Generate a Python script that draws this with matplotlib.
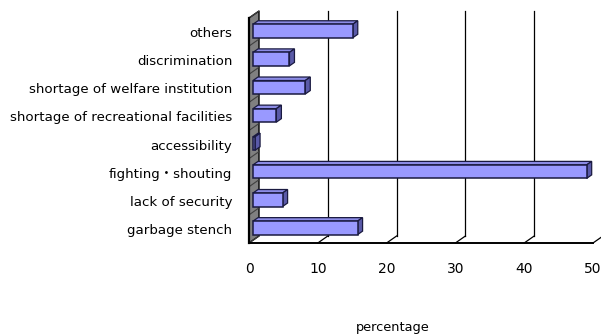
import matplotlib
matplotlib.use('Agg')
import matplotlib.pyplot as plt
from matplotlib.patches import Polygon

plt.rcParams['font.family'] = ['DejaVu Sans', 'Noto Sans CJK JP']

categories = ['garbage stench', 'lack of security', 'fighting・shouting', 'accessibility',
              'shortage of recreational facilities', 'shortage of welfare institution',
              'discrimination', 'others']
values = [15.2, 4.3, 48.5, 0.3, 3.4, 7.6, 5.3, 14.5]
x_ticks = [0, 10, 20, 30, 40, 50]

W, H = 601, 336
fig = plt.figure(figsize=(W / 100, H / 100), dpi=100)
# front plane of the 3d box, in pixels: x 249..593, y 243(bottom)..18(top)
ax = fig.add_axes([249 / W, (H - 243) / H, (593 - 249) / W, (243 - 18) / H])
ax.set_xlim(0, 50)
ax.set_ylim(0, len(categories))

# depth of the box in data units (10 px right, 7 px up)
ux = 50 / (593 - 249)
uy = len(categories) / (243 - 18)
dx, dy = 10 * ux, 7 * uy

# grey wall on the left
ax.add_patch(Polygon([(0, 0), (dx, dy), (dx, 8 + dy), (0, 8)], closed=True,
                     facecolor='#808080', edgecolor='black', lw=1, clip_on=False, zorder=1))
for i in range(len(categories) + 1):
    ax.plot([0, dx], [i, i + dy], color='#404040', lw=0.8, clip_on=False, zorder=2)
ax.plot([0, 0], [0, 8], color='black', lw=1.6, clip_on=False, zorder=3)

# back gridlines and floor
for t in x_ticks[1:]:
    ax.plot([t + dx, t + dx], [dy, 8 + dy], color='black', lw=0.9, clip_on=False, zorder=1)
    ax.plot([t, t + dx], [0, dy], color='black', lw=0.9, clip_on=False, zorder=1)
ax.plot([0, 50], [0, 0], color='black', lw=1.4, clip_on=False, zorder=3)

# 3d bars
off_x, off_y = 0.4 * dx, 0.4 * dy
bx, by = 0.5 * dx, 0.5 * dy
h = 0.48
edge = '#1a1a40'
for i, v in enumerate(values):
    y0 = i + 0.5 - h / 2 + off_y - by / 2
    x0 = off_x
    x1 = v + off_x
    front = [(x0, y0), (x1, y0), (x1, y0 + h), (x0, y0 + h)]
    top = [(x0, y0 + h), (x1, y0 + h), (x1 + bx, y0 + h + by), (x0 + bx, y0 + h + by)]
    side = [(x1, y0), (x1 + bx, y0 + by), (x1 + bx, y0 + h + by), (x1, y0 + h)]
    ax.add_patch(Polygon(top, closed=True, facecolor='#8c8ce6', edgecolor=edge, lw=0.9,
                         clip_on=False, zorder=4))
    ax.add_patch(Polygon(side, closed=True, facecolor='#5a5aa8', edgecolor=edge, lw=0.9,
                         clip_on=False, zorder=4))
    ax.add_patch(Polygon(front, closed=True, facecolor='#9999ff', edgecolor=edge, lw=1.1,
                         clip_on=False, zorder=5))

ax.set_yticks([i + 0.5 for i in range(len(categories))])
ax.set_yticklabels(categories, fontsize=9.6)
ax.set_xticks(x_ticks)
ax.set_xticklabels([str(t) for t in x_ticks], fontsize=10)
ax.tick_params(axis='y', length=0, pad=12)
ax.tick_params(axis='x', length=0, pad=14)
for s in ax.spines.values():
    s.set_visible(False)
ax.patch.set_visible(False)

fig.text(393 / W, 1 - 327 / H, 'percentage', ha='center', va='center', fontsize=9.3)

fig.savefig('out.png', dpi=100)
